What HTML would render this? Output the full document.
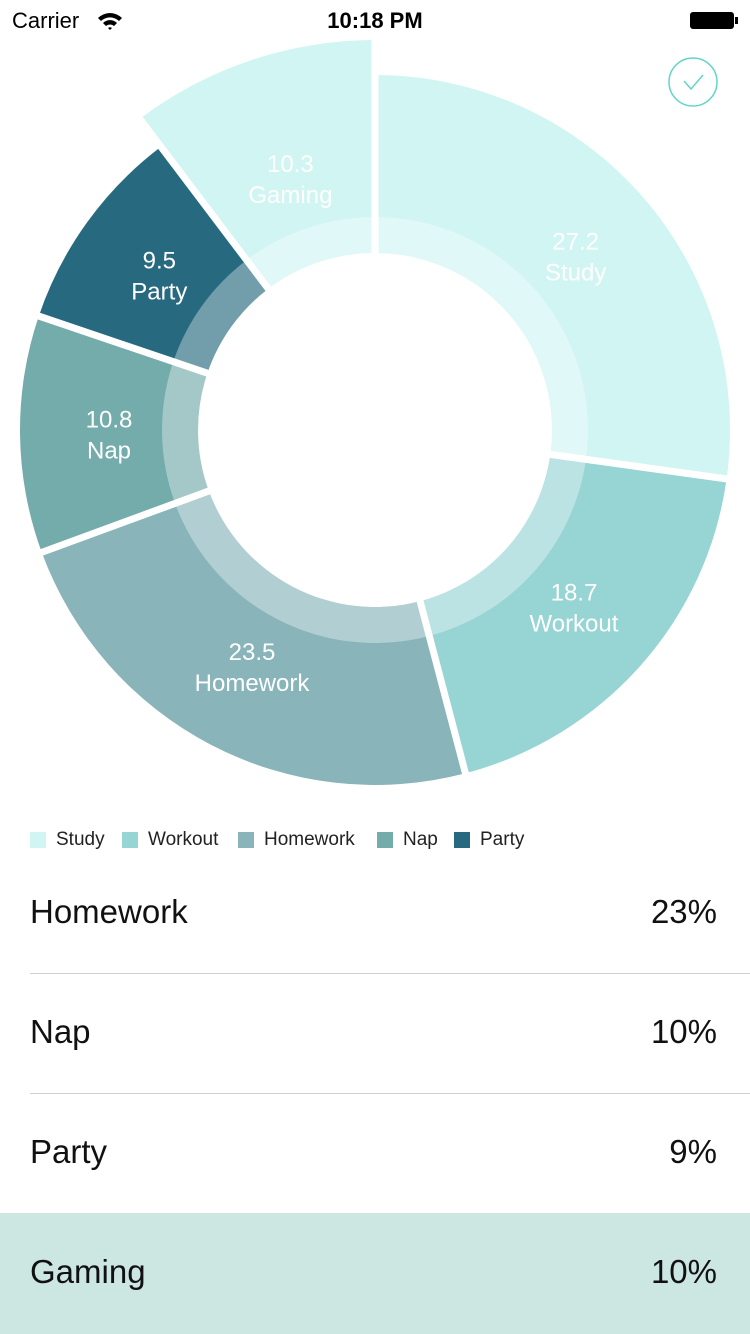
<!DOCTYPE html>
<html><head><meta charset="utf-8">
<style>
body{margin:0;width:750px;height:1334px;overflow:hidden;background:#fff;font-family:"Liberation Sans",sans-serif;position:relative}
.abs{position:absolute}
.row{position:absolute;left:0;width:750px;height:120px}
.row .n{position:absolute;left:30px;top:40px;font-size:33px;color:#111}
.row .p{position:absolute;right:33px;top:40px;font-size:33px;color:#111}
.sep{position:absolute;left:30px;right:0;height:1px;background:#d0d0d0}
.leg{position:absolute;top:829px;font-size:19px;color:#222;display:flex;align-items:center}
.leg i{display:inline-block;width:16px;height:16px;margin-right:10px}
</style></head><body>
<div class="abs" style="left:12px;top:8px;font-size:22px">Carrier</div>
<svg class="abs" style="left:96px;top:10px" width="28" height="22" viewBox="0 0 28 22"><path d="M2 8 A17 17 0 0 1 26 8 L23 11 A13 13 0 0 0 5 11Z M7 13 A10 10 0 0 1 21 13 L18 16 A6 6 0 0 0 10 16Z M12 18 L14 20 L16 18 A3 3 0 0 0 12 18Z" fill="#000"/></svg>
<div class="abs" style="left:0;width:750px;text-align:center;top:8px;font-size:22px;font-weight:bold">10:18 PM</div>
<div class="abs" style="left:690px;top:12px;width:42px;height:15px;border:1.5px solid #000;border-radius:3px;background:#000"></div>
<div class="abs" style="left:735px;top:17px;width:3px;height:7px;background:#000"></div>
<svg class="abs" style="left:667px;top:56px" width="52" height="52"><circle cx="26" cy="26" r="24" fill="none" stroke="#5fd6c8" stroke-width="1.5"/><path d="M17 25 L24 33 L36 19" fill="none" stroke="#5fd6c8" stroke-width="1.5"/></svg>
<svg id="chart" class="abs" style="left:0;top:0" width="750" height="800"></svg>

<div class="leg" style="left:30px"><i style="background:#d0f5f3"></i>Study</div>
<div class="leg" style="left:122px"><i style="background:#97d4d4"></i>Workout</div>
<div class="leg" style="left:238px"><i style="background:#88b4ba"></i>Homework</div>
<div class="leg" style="left:377px"><i style="background:#74abab"></i>Nap</div>
<div class="leg" style="left:454px"><i style="background:#276a80"></i>Party</div>

<div class="row" style="top:853px"><span class="n">Homework</span><span class="p">23%</span></div>
<div class="sep" style="top:973px"></div>
<div class="row" style="top:973px"><span class="n">Nap</span><span class="p">10%</span></div>
<div class="sep" style="top:1093px"></div>
<div class="row" style="top:1093px"><span class="n">Party</span><span class="p">9%</span></div>
<div class="row" style="top:1213px;height:121px;background:#cce6e2"><span class="n">Gaming</span><span class="p">10%</span></div>

<script>
const categories=["Study","Workout","Homework","Nap","Party","Gaming"];
const values=[27.2,18.7,23.5,10.8,9.5,10.3];
const colors=["#d0f5f3","#97d4d4","#88b4ba","#74abab","#276a80","#d0f5f3"];
const selectedIndex=5;
const svg=document.getElementById('chart');
const NS="http://www.w3.org/2000/svg";
const cx=375,cy=430,r0=177,r1=213,rOut=355,rSel=390,rLab=266;
const total=values.reduce((a,b)=>a+b,0);
function pt(r,a){return [cx+r*Math.sin(a),cy-r*Math.cos(a)];}
function arc(ri,ro,a0,a1){
  const L=(a1-a0)>Math.PI?1:0;
  const p1=pt(ro,a0),p2=pt(ro,a1),p3=pt(ri,a1),p4=pt(ri,a0);
  return `M${p1} A${ro} ${ro} 0 ${L} 1 ${p2} L${p3} A${ri} ${ri} 0 ${L} 0 ${p4}Z`;
}
let acc=0;
const bounds=[];
values.forEach((v,i)=>{
  const a0=acc/total*2*Math.PI; acc+=v; const a1=acc/total*2*Math.PI;
  bounds.push(a0);
  const ro=i===selectedIndex?rSel:rOut;
  const g=document.createElementNS(NS,'g');
  
  
  const outer=document.createElementNS(NS,'path');
  outer.setAttribute('d',arc(r0,ro,a0,a1));
  outer.setAttribute('fill',colors[i]);
  g.appendChild(outer);
  const inner=document.createElementNS(NS,'path');
  inner.setAttribute('d',arc(r0,r1,a0,a1));
  inner.setAttribute('fill','#fff');inner.setAttribute('fill-opacity','0.35');
  g.appendChild(inner);
  const am=(a0+a1)/2;const lp=pt(rLab,am);
  const t=document.createElementNS(NS,'text');
  
  
  t.setAttribute('x',lp[0]);t.setAttribute('y',lp[1]);
  t.setAttribute('text-anchor','middle');t.setAttribute('fill','#fff');
  t.setAttribute('font-size','24');t.setAttribute('font-family','Liberation Sans, sans-serif');
  const s1=document.createElementNS(NS,'tspan');s1.setAttribute('x',lp[0]);s1.setAttribute('dy','-6');s1.textContent=values[i];
  const s2=document.createElementNS(NS,'tspan');s2.setAttribute('x',lp[0]);s2.setAttribute('dy','31');s2.textContent=categories[i];
  t.appendChild(s1);t.appendChild(s2);g.appendChild(t);
  svg.insertBefore(g,svg.firstChild);
});
bounds.forEach(a=>{
  const p1=pt(r0-2,a),p2=pt(rSel+5,a);
  const l=document.createElementNS(NS,'line');
  
  
  l.setAttribute('x1',p1[0]);l.setAttribute('y1',p1[1]);l.setAttribute('x2',p2[0]);l.setAttribute('y2',p2[1]);
  l.setAttribute('stroke','#fff');l.setAttribute('stroke-width','7');
  svg.insertBefore(l,svg.querySelector('text')?null:null);
});
// bring labels to top
svg.querySelectorAll('text').forEach(t=>svg.appendChild(t));
</script>
</body></html>
